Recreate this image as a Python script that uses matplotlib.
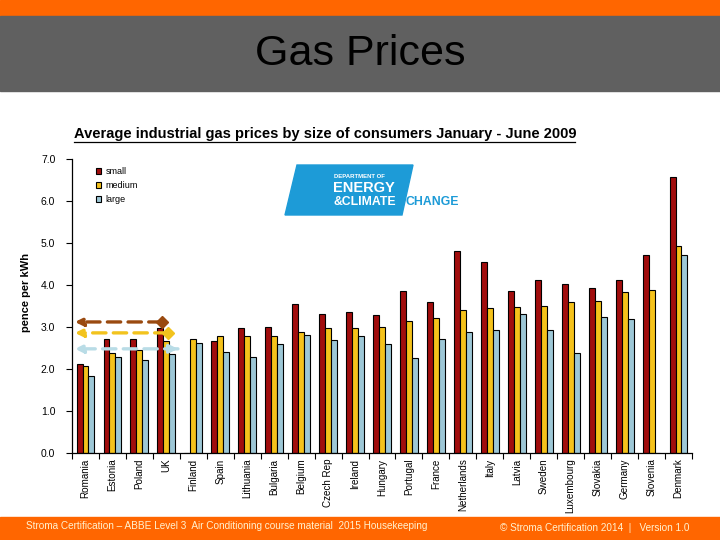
import matplotlib
matplotlib.use("Agg")
import matplotlib.pyplot as plt
import numpy as np
from matplotlib.patches import Polygon, Rectangle

plt.rcParams['font.family'] = ['Liberation Sans', 'DejaVu Sans']

countries = ["Romania", "Estonia", "Poland", "UK", "Finland", "Spain", "Lithuania",
             "Bulgaria", "Belgium", "Czech Rep", "Ireland", "Hungary", "Portugal",
             "France", "Netherlands", "Italy", "Latvia", "Sweden", "Luxembourg",
             "Slovakia", "Germany", "Slovenia", "Denmark"]
small = [2.12, 2.71, 2.71, 2.97, 0.0, 2.67, 2.97, 2.99, 3.54, 3.30, 3.35, 3.29, 3.86,
         3.59, 4.81, 4.54, 3.86, 4.13, 4.02, 3.92, 4.12, 4.71, 6.56]
medium = [2.07, 2.39, 2.45, 2.67, 2.71, 2.78, 2.78, 2.78, 2.87, 2.97, 2.97, 2.99, 3.14,
          3.21, 3.40, 3.45, 3.48, 3.51, 3.59, 3.62, 3.83, 3.88, 4.94]
large = [1.84, 2.28, 2.21, 2.36, 2.61, 2.40, 2.29, 2.59, 2.80, 2.68, 2.78, 2.60, 2.26,
         2.71, 2.88, 2.94, 3.31, 2.94, 2.38, 3.23, 3.18, 0.0, 4.71]
series_names = ["small", "medium", "large"]
yticks = [0.0, 1.0, 2.0, 3.0, 4.0, 5.0, 6.0, 7.0]
arrow_levels = [3.12, 2.86, 2.48]

colors = ["#A10D0D", "#F5C21B", "#9DC7D6"]
arrow_colors = ["#9A4A10", "#F2C31E", "#B9DCE6"]

W, H = 720, 540
fig = plt.figure(figsize=(7.2, 5.4), dpi=100)

def fx(x):
    return x / W

def fy(y):
    return 1 - y / H

# header bands
fig.patches.append(Rectangle((0, fy(16)), 1, 16 / H, transform=fig.transFigure,
                             color="#FF6600", zorder=0))
fig.patches.append(Rectangle((0, fy(91)), 1, 75 / H, transform=fig.transFigure,
                             color="#606060", zorder=0))
fig.text(0.5, fy(54), "Gas Prices", ha="center", va="center", fontsize=31, color="#000000")

# footer band
fig.patches.append(Rectangle((0, 0), 1, 23 / H, transform=fig.transFigure,
                             color="#FF6600", zorder=0))
fig.text(fx(26), fy(526), "Stroma Certification \u2013 ABBE Level 3  Air Conditioning course material  2015 Housekeeping",
         fontsize=7.2, color="#FFF2D0", va="center", ha="left")
fig.text(fx(500), fy(528), "\u00a9 Stroma Certification 2014  |   Version 1.0",
         fontsize=7.2, color="#FFF2D0", va="center", ha="left")

# chart subtitle
fig.text(fx(74), fy(134), "Average industrial gas prices by size of consumers January - June 2009",
         fontsize=10.5, fontweight="bold", va="center", ha="left")
fig.add_artist(plt.Line2D([fx(74), fx(575)], [fy(141.5), fy(141.5)], transform=fig.transFigure,
                          color="black", lw=0.9))

ax = fig.add_axes([fx(72), fy(453), fx(692) - fx(72), (453 - 159) / H])
x = np.arange(len(countries))
bw = 0.22
for i, (vals, c, name) in enumerate(zip([small, medium, large], colors, series_names)):
    ax.bar(x + (i - 1) * bw, vals, width=bw, color=c, edgecolor="black", linewidth=0.8,
           label=name)

ax.set_xlim(-0.5, len(countries) - 0.5)
ax.set_ylim(0, 7)
ax.set_yticks(yticks)
ax.set_yticklabels([f"{v:.1f}" for v in yticks], fontsize=7.5)
ax.tick_params(axis="y", direction="out", length=4, width=0.8, pad=8)
ax.set_xticks(x)
ax.set_xticklabels(countries, rotation=90, fontsize=7.1)
ax.tick_params(axis="x", length=0, pad=4)
ax.set_xticks(np.arange(len(countries) + 1) - 0.5, minor=True)
ax.tick_params(axis="x", which="minor", direction="out", length=4, width=0.8)
for s in ["top", "right"]:
    ax.spines[s].set_visible(False)
ax.spines["left"].set_linewidth(0.9)
ax.spines["bottom"].set_linewidth(0.9)
ax.set_ylabel("pence per kWh", fontsize=8, fontweight="bold")
ax.yaxis.set_label_coords(-0.066, 0.545)

leg = ax.legend(loc="upper left", bbox_to_anchor=(0.025, 1.0), frameon=False, fontsize=6.5,
                handlelength=0.6, handleheight=0.6, handletextpad=0.5, labelspacing=0.55)

# annotation arrows
ends = [2.84, 3.06, 3.43]
for k, (lvl, c, e) in enumerate(zip(arrow_levels, arrow_colors, ends)):
    ax.annotate("", xy=(-0.39, lvl), xytext=(e, lvl),
                arrowprops=dict(arrowstyle="-|>", color=c, lw=2.4, linestyle=(0, (4, 2.2)),
                                mutation_scale=12, shrinkA=0, shrinkB=0))
    if k < 2:
        ax.plot([e], [lvl], marker="D", color=c, markersize=6.5, zorder=5, clip_on=False)
    else:
        ax.annotate("", xy=(e, lvl), xytext=(e - 0.3, lvl),
                    arrowprops=dict(arrowstyle="-|>", color=c, lw=2.4,
                                    mutation_scale=12, shrinkA=0, shrinkB=0))

# DECC logo
poly = Polygon([(fx(297), fy(165)), (fx(413), fy(165)), (fx(402), fy(215)), (fx(285), fy(215))],
               closed=True, transform=fig.transFigure, color="#1D9BD7", zorder=3)
fig.patches.append(poly)
fig.text(fx(334), fy(176), "DEPARTMENT OF", fontsize=4.3, color="white", fontweight="bold",
         va="center", ha="left", zorder=4)
fig.text(fx(333), fy(188), "ENERGY", fontsize=10.5, color="white", fontweight="bold",
         va="center", ha="left", zorder=4)
fig.text(fx(333), fy(201.5), "&CLIMATE", fontsize=8.8, color="white", fontweight="bold",
         va="center", ha="left", zorder=4)
fig.text(fx(405), fy(201.5), "CHANGE", fontsize=8.8, color="#1D9BD7", fontweight="bold",
         va="center", ha="left", zorder=4)

fig.savefig("out.png", dpi=100)
